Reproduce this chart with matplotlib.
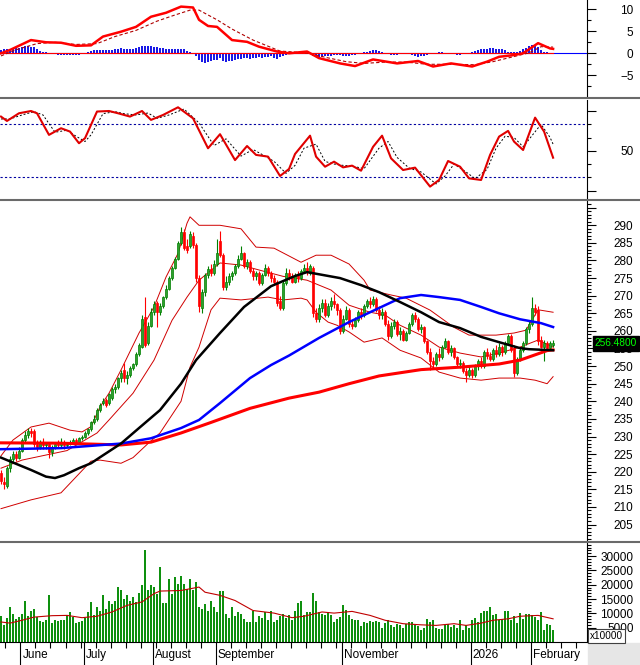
import matplotlib
matplotlib.use("Agg")
import matplotlib.pyplot as plt
import matplotlib.transforms as mtransforms
from matplotlib.lines import Line2D
from matplotlib.patches import Rectangle
from matplotlib.ticker import MultipleLocator
import numpy as np

plt.rcParams['font.family'] = ['Liberation Sans', 'DejaVu Sans']

# ---- daily candles (bar index 0 = late May 2025, last = Feb 2026) ----
opens = [
    219.5, 217, 216, 221, 223.5, 225, 224, 226, 229, 230.5,
    231.5, 231.5, 228, 227, 228.5, 227.5, 228, 225.5, 227, 228,
    227.5, 228.5, 227.5, 228, 228.5, 229, 228.5, 229.5, 230, 231,
    232, 234, 235, 237.5, 239.5, 240.5, 239.5, 241, 243.5, 244,
    246.5, 249, 246.5, 247.5, 249.5, 250.5, 253.5, 255.5, 264, 256.5,
    261.5, 265.5, 268, 265.5, 267, 269.5, 272, 275, 278, 280.5,
    285, 288, 284, 284, 287, 284.5, 275, 266.5, 271, 276,
    277.5, 276.5, 279, 285.5, 281.5, 272.5, 274, 275.5, 276.5, 278.5,
    280.5, 282, 278.5, 279.5, 277, 275.5, 276.5, 273.5, 276, 278,
    276.5, 275, 274, 268.5, 266.5, 273.5, 276.5, 275.5, 274, 276,
    275, 277, 278, 276.5, 278, 265, 263.5, 266.5, 268, 264.5,
    267, 268.5, 267.5, 266, 260, 263.5, 266, 262, 261.5, 263,
    265.5, 264.5, 267, 268.5, 267.5, 269, 266, 264.5, 265.5, 262,
    258.5, 261.5, 262.5, 259, 260, 257.5, 259.5, 262, 264.5, 263.5,
    260.5, 261, 257, 254, 251.5, 250.5, 253.5, 252.5, 255.5, 257,
    254, 255, 252.5, 250.5, 251, 248.5, 247.5, 249, 247.5, 250,
    251.5, 250, 254, 253, 252, 254.5, 253.5, 255.5, 254, 256.5,
    258.5, 255, 248, 252, 254.5, 256.5, 260.5, 262, 266.5, 266,
    257.5, 255.5, 256.5, 255, 256,
]
highs = [
    220.5, 218.5, 221.5, 224.5, 226, 226, 227, 229.5, 231.5, 232.5,
    232.5, 232, 229, 229, 229.5, 228.5, 228.5, 227.5, 228.5, 229,
    229.5, 229, 228.5, 229, 229.5, 229.5, 230, 230.5, 231.5, 232.5,
    234.5, 236, 238, 239.5, 241, 241, 242.5, 244, 245, 247,
    249, 251, 248.5, 250, 251, 254, 256.5, 264.5, 269.5, 262.5,
    266.5, 268.5, 268.5, 268, 270, 273, 275.5, 278.5, 281, 285.5,
    289.5, 289, 286, 288.5, 288, 285, 276, 272, 276.5, 278.5,
    279, 280, 286, 288.5, 282, 275.5, 276.5, 277, 279, 281.5,
    284, 282.5, 280.5, 280, 278, 277, 277, 276.5, 279, 278.5,
    277, 276, 274.5, 270, 274.5, 278, 277.5, 276.5, 276.5, 277,
    277.5, 279, 279.5, 279, 278.5, 266.5, 267.5, 269, 269, 268,
    269.5, 270.5, 268, 266.5, 264.5, 267, 266.5, 263, 264, 266,
    266.5, 267.5, 269, 269.5, 270, 269.5, 267, 266.5, 266, 263,
    262.5, 263.5, 263, 261, 260.5, 260, 262.5, 265, 265.5, 264,
    262, 261.5, 257.5, 255, 252.5, 254, 255, 256, 258, 257.5,
    256, 255.5, 253, 252, 251.5, 249.5, 250, 249.5, 250.5, 252,
    252.5, 254.5, 255, 254, 255, 256, 256.5, 256, 257, 259,
    259, 256, 252.5, 255, 257, 261, 263, 269.5, 267.5, 267,
    258.5, 257.5, 257, 257, 257.5,
]
lows = [
    216.5, 215, 215.5, 220, 222.5, 223, 223.5, 225.5, 228.5, 229.5,
    230, 227, 226, 226.5, 226.5, 226.5, 224, 224.5, 226.5, 227,
    227, 226.5, 227, 227.5, 228, 228, 228, 229, 229.5, 230.5,
    231.5, 233.5, 234.5, 237, 239, 238.5, 239, 240.5, 242.5, 243.5,
    245.5, 245.5, 245, 247, 249, 250, 253, 255, 255.5, 256,
    261, 264.5, 261, 264.5, 266.5, 269, 271.5, 274.5, 277.5, 280,
    284.5, 283, 282, 283.5, 283.5, 274, 265.5, 265, 270, 275,
    275.5, 276, 278.5, 281, 271.5, 271.5, 273, 274.5, 276, 278,
    280, 278, 277.5, 276.5, 274.5, 274.5, 273, 273, 275.5, 275.5,
    274, 273, 267, 266, 266, 273, 274.5, 273.5, 273.5, 274,
    274.5, 276.5, 276, 276, 264, 262.5, 262.5, 265.5, 264, 264,
    266, 266.5, 264.5, 259, 259.5, 263, 261, 260.5, 261, 262.5,
    263.5, 264, 266.5, 266.5, 267, 265.5, 263.5, 263.5, 261.5, 257.5,
    258, 260.5, 258.5, 257.5, 257, 257, 259, 261.5, 262.5, 260,
    259.5, 256.5, 253.5, 249, 249.5, 250, 251.5, 252, 255, 253.5,
    253, 252, 250, 249.5, 248, 245.5, 247, 246.5, 247, 249,
    249.5, 249.5, 252, 251.5, 251.5, 252.5, 253, 253, 253.5, 256,
    254, 247, 247.5, 251.5, 254, 256, 259.5, 261.5, 264.5, 256,
    255, 251.5, 254.5, 254.5, 255.5,
]
closes = [
    217.5, 216.5, 221, 223.5, 225, 224, 226, 229, 230.5, 231.5,
    231, 228, 227, 228.5, 227.5, 228, 225.5, 227, 228, 227.5,
    228.5, 227.5, 228, 228.5, 229, 228.5, 229.5, 230, 231, 232,
    234, 235, 237.5, 239, 240, 239, 242, 243.5, 244, 246.5,
    248, 246.5, 247.5, 249.5, 250.5, 253.5, 256, 263.5, 256, 261.5,
    265.5, 267.5, 265.5, 267, 269.5, 272, 275, 278, 280.5, 285,
    288, 283.5, 283, 287.5, 284.5, 275, 267, 271, 276, 277.5,
    276.5, 279, 282, 281.5, 272.5, 274, 275.5, 276.5, 278.5, 280.5,
    282, 278.5, 279.5, 277, 275.5, 276.5, 273.5, 276, 278, 276.5,
    275, 274, 268, 266.5, 273.5, 276.5, 275.5, 274, 276, 275,
    277, 278, 277, 278.5, 265, 263.5, 266.5, 268, 264.5, 267,
    268.5, 267.5, 266, 260, 263.5, 266, 262, 261.5, 263, 265.5,
    264.5, 267, 268.5, 267.5, 269, 266, 264.5, 265.5, 262, 258.5,
    261.5, 262.5, 259, 260, 257.5, 259.5, 262, 264.5, 263.5, 260.5,
    261, 257, 254, 251.5, 250.5, 253.5, 252.5, 255.5, 257, 254,
    255, 252.5, 250.5, 251, 248.5, 247.5, 249, 247.5, 250, 251.5,
    250, 254, 253, 252, 254.5, 253.5, 255.5, 254, 256.5, 258.5,
    254.5, 248, 252, 254.5, 256.5, 260.5, 262, 266.5, 265.5, 257,
    255.5, 256.5, 255, 256.5, 256.48,
]

# volume (x10000 shares)
volumes = [
    9000, 5800, 8500, 12400, 9700, 8100, 8700, 9700, 14200, 9000,
    10700, 11700, 8700, 7200, 7000, 7600, 16500, 6700, 7800, 7300,
    7600, 7600, 9300, 10500, 8700, 6600, 7000, 7200, 8500, 10500,
    14000, 9300, 12400, 10800, 16300, 11600, 14200, 13400, 14500, 19200,
    18000, 15100, 16300, 14500, 15900, 14000, 17100, 19800, 32000, 18000,
    19800, 19200, 16900, 26200, 13600, 13600, 22100, 16900, 22700, 20300,
    22900, 20300, 18600, 22100, 18000, 20900, 12200, 11600, 13400, 11000,
    14500, 12200, 10500, 17800, 17800, 9900, 8500, 12200, 9000, 10500,
    9700, 8100, 7000, 7000, 10700, 7000, 9000, 8500, 10500, 7600,
    10800, 7000, 7800, 9000, 9700, 8500, 9300, 7600, 11000, 13600,
    14200, 9300, 10500, 10500, 17100, 14200, 10500,
    9900, 9300, 10500, 9300, 7000, 8100, 8700, 12800, 11300, 9300,
    8100, 7800, 7600, 5500, 7000, 6600, 7200, 7000, 7200, 7000,
    5000, 6600, 7600, 5800, 5200, 6400, 5800, 5000, 6400, 7000,
    7000, 5800, 5500, 4100, 5000, 8100, 7000, 7800, 5000, 4700,
    4700, 5800, 6200, 5200, 5800, 5000, 7800, 4300, 5800, 5000,
    7600, 8500, 7000, 10100, 11000, 10800, 12400, 9300, 9900, 7600,
    8100, 10800, 10800, 7600, 9000, 6600, 10100, 8100, 9700, 9700,
    9300, 8700, 7800, 10500, 4300, 6200, 5800, 4300,
]
vol_ma_idx = [0, 3, 7, 11, 17, 22, 27, 32, 37, 42, 47, 51, 53, 60, 66, 68, 73, 78, 84, 91,
              97, 101, 107, 111, 117, 123, 128, 134, 140, 145, 151, 155, 160, 164, 169, 173, 179, 184]
vol_ma_val = [7000, 6600, 7600, 8700, 9200, 9300, 8500, 9000, 10500, 12800, 14000, 16900, 17800,
              18000, 19200, 17400, 16300, 14500, 11000, 10100, 8500, 9000, 10500, 10100, 10700,
              9300, 7600, 6400, 6000, 5800, 6400, 5800, 6600, 7600, 8100, 9000, 9300, 8100]

# moving averages / bollinger bands, read at selected bars
ma_black_idx = [0, 10, 15, 18, 21, 26, 30, 33, 40, 46, 53, 60, 65, 73, 81, 90, 98, 102, 113,
                120, 126, 133, 140, 146, 153, 160, 166, 173, 176, 184]
ma_black_val = [224, 220.5, 218.6, 218.2, 219, 221, 222.4, 224.1, 228, 232.4, 237.5, 245, 251.7,
                259.4, 266.8, 272.7, 275.6, 276.7, 275, 273, 271, 268.2, 265.3, 262.5, 260.8,
                258.3, 256.8, 255.1, 254.8, 254.5]
ma_blue_idx = [0, 7, 20, 40, 50, 60, 66, 73, 83, 90, 96, 106, 116, 126, 133, 140, 146, 153,
               160, 166, 173, 180, 184]
ma_blue_val = [226.4, 226.5, 226.7, 228, 229.5, 232.4, 234.7, 239.5, 246.6, 250.3, 253, 258,
               262.5, 266.5, 269.3, 270.2, 269.6, 268.8, 266.8, 265, 263.3, 262.2, 261.1]
ma_red_idx = [0, 20, 40, 50, 60, 70, 83, 96, 106, 116, 126, 140, 153, 166, 173, 176, 182, 184]
ma_red_val = [228.2, 228.1, 227.6, 228.4, 231, 234, 238, 240.9, 242.6, 245, 247.2, 249, 249.7,
              250.6, 251.7, 252.6, 254.4, 254.6]
bb_up_idx = [0, 4, 10, 16, 23, 27, 30, 33, 36, 40, 46, 51, 55, 59, 62, 63, 66, 73, 80, 85, 91,
             100, 105, 110, 116, 121, 123, 130, 135, 143, 151, 156, 165, 171, 175, 179, 184]
bb_up_val = [224.5, 229, 232.7, 233.8, 231.8, 231.3, 232.8, 238.4, 242.3, 248.9, 259.4, 266.8,
             275.3, 282, 290.6, 292.4, 290, 290, 289, 283.8, 283.5, 279.5, 281.5, 281.5, 279,
             274.4, 271.6, 270.2, 269.3, 265.9, 261, 258.8, 258.8, 259.4, 260.2, 266, 265.3]
bb_mid_idx = [0, 7, 22, 32, 36, 44, 51, 57, 62, 66, 73, 80, 86, 94, 102, 110, 116, 123, 128,
              133, 140, 146, 153, 160, 166, 173, 179, 184]
bb_mid_val = [221, 223.3, 226, 231, 234.7, 242.3, 251.7, 263, 269.6, 274.4, 279.3, 278.7, 277.3,
              275.5, 274.4, 271.6, 267.3, 265.3, 264.5, 261.6, 258.8, 255.4, 253.7, 252.6, 253.7,
              255.4, 257.4, 255.4]
bb_low_idx = [0, 10, 20, 30, 33, 40, 44, 49, 53, 60, 63, 66, 70, 73, 80, 89, 94, 100, 102, 105,
              109, 112, 116, 121, 127, 133, 140, 146, 153, 160, 166, 173, 178, 182, 184]
bb_low_val = [209.5, 212, 214, 223, 223.3, 222.4, 224, 228, 231, 240, 249.7, 255.4, 266, 269.3,
              268.8, 269.6, 268.8, 269.3, 268.8, 265.3, 262.5, 261.6, 259.7, 256.8, 258, 254.5,
              252.3, 248.3, 246.6, 246, 246.6, 246.6, 246, 245, 247]

# MACD
macd_idx = [0, 3, 10, 15, 20, 25, 30, 34, 40, 45, 50, 55, 60, 64, 66, 69, 72, 77, 82, 86, 92,
            96, 102, 106, 113, 118, 124, 132, 139, 144, 150, 157, 162, 166, 171, 174, 179, 183, 184]
macd_val = [0, 0.75, 3, 2.5, 2.4, 1.7, 1.8, 3.8, 4.9, 6, 8.3, 9.2, 10.6, 10.4, 7.6, 6.2, 6, 3,
            2.6, 1.5, 0.4, 0, 0.4, -1.1, -2.3, -2.9, -1.4, -2.3, -1.75, -3, -2.3, -3, -1.9, -0.8,
            -0.4, 0, 2.3, 1.1, 1.0]
signal_idx = [0, 5, 12, 18, 25, 32, 38, 45, 52, 58, 63, 66, 72, 77, 84, 93, 102, 108, 115, 121,
              128, 135, 142, 150, 158, 164, 170, 176, 180, 184]
signal_val = [-0.6, 0.8, 2.2, 2.5, 2.0, 2.2, 3.8, 5.2, 7.3, 8.7, 9.8, 9.8, 7.6, 5.5, 3.0, 0.5, 0.1,
              -0.9, -1.9, -2.3, -2.0, -2.0, -2.5, -2.5, -2.6, -1.9, -0.9, 0.1, 1.5, 1.4]
macd_hist = [
    0.7, 0.9, 1.0, 1.0, 1.1, 1.2, 1.2, 1.4, 1.6, 1.7, 1.5, 1.4,
    0.9, 0.6, 0.4, 0.2, 0.1, 0.0, -0.1,
    -0.3, -0.3, -0.3, -0.3, -0.3, -0.3, -0.3, -0.3, -0.2,
    0.1, 0.3, 0.5, 0.7, 0.8, 0.8, 0.7, 0.8, 0.7, 0.8, 0.9,
    1.0, 1.1, 1.0, 0.9, 1.0, 1.0, 1.1, 1.5, 1.6, 1.7, 1.7, 1.7, 1.5, 1.4,
    1.3, 1.2, 1.0, 1.0, 0.9, 1.0, 1.0, 1.0, 0.9, 0.6, 0.4, 0.1,
    -0.7, -1.5, -2.0, -2.1, -1.9, -1.8, -1.6, -1.5,
    -1.1, -1.7, -1.9, -1.7, -1.8, -1.6, -1.4, -1.3,
    -1.1, -1.0, -1.2, -1.0, -1.1, -0.9, -1.0, -0.8, -0.9, -0.7, -1.1, -1.3,
    -0.9, -0.6, -0.4, -0.2, -0.1, 0.0, 0.1, 0.2, 0.1, 0.0, -0.2, -0.6, -0.8,
    -0.8, -0.8, -0.7, -0.6, -0.6, -0.5, -0.5, -0.4, -0.6, -0.7, -0.6,
    -0.4, -0.3, -0.2, 0.0, 0.2, 0.4, 0.6, 0.7, 0.7, 0.6, 0.4,
    0.0, -0.2, -0.3, -0.3, -0.3, -0.2, -0.2, -0.1, -0.2, -0.5, -0.6, -0.8,
    -0.7, -0.6, -0.4, -0.2, 0.0, 0.1, 0.2, 0.2, 0.1, 0.0,
    -0.1, -0.2, -0.3, -0.3, -0.2, -0.1, 0.1, 0.3, 0.6, 0.8, 0.9, 1.0,
    1.0, 1.1, 1.1, 1.0, 1.0, 0.9, 0.7, 0.4, 0.3, 0.3, 0.4, 0.6,
    0.9, 1.3, 1.6, 1.9, 1.8, 1.4, 0.8, 0.4, 0.2, 0.0, -0.1,
]

# RSI
rsi_idx = [0, 2, 6, 10, 12, 16, 20, 23, 26, 28, 32, 36, 39, 43, 47, 50, 54, 59, 64, 69, 73, 78,
           82, 85, 89, 93, 96, 98, 103, 105, 108, 111, 114, 117, 120, 124, 127, 130, 134, 138,
           143, 146, 149, 153, 156, 160, 163, 166, 169, 171, 174, 178, 181, 184]
rsi_val = [75.8, 72.5, 78.3, 80, 78.3, 62, 67, 64.5, 55.7, 59.5, 79.6, 80, 78.3, 75.8, 80, 73.3,
           77, 82.8, 74.5, 51.9, 62.5, 43, 53.6, 46.9, 45.6, 31, 36.3, 47.6, 61.4, 45.6, 38, 41.8,
           37.5, 38.8, 35, 53, 61.4, 44.3, 35.5, 37.3, 23, 28, 42.3, 38, 29.2, 28, 46.9, 60.7, 65,
           56.9, 50.6, 75, 64.5, 44.8]
rsi_sig_idx = [0, 3, 7, 11, 14, 18, 22, 25, 28, 30, 34, 38, 41, 45, 49, 52, 56, 61, 66, 71, 75,
               80, 84, 88, 91, 95, 98, 101, 105, 108, 111, 114, 117, 121, 126, 129, 132, 136, 140,
               145, 148, 151, 155, 158, 162, 165, 168, 171, 174, 180, 183, 184]
rsi_sig_val = [74, 74, 77, 79.5, 77, 64, 65.5, 61, 57, 62, 78, 79.5, 78, 77, 78.5, 74.5, 77, 81.5,
               71, 54, 59, 46, 51, 46, 42, 33, 39, 52, 55, 42, 40, 39, 38.5, 36.5, 52, 57, 45, 37,
               34, 25, 31, 40, 34, 29, 36, 52, 61, 60, 53, 70, 60, 55]

# date axis
month_idx = [7, 28, 51, 72, 114, 157, 177]
month_labels = ['June', 'July', 'August', 'September', 'November', '2026', 'February']

# ---------------------------------------------------------------------
opens, highs, lows, closes = map(np.array, (opens, highs, lows, closes))
n = len(closes)
idx = np.arange(n)

W, H = 640, 665
RIGHT = 587
fig = plt.figure(figsize=(W / 100, H / 100), dpi=100)
fig.patch.set_facecolor('white')


def panel(top, bottom):
    ax = fig.add_axes([0, 1 - bottom / H, RIGHT / W, (bottom - top) / H])
    ax.set_xlim(-0.33, 195.3)
    for s in ('left', 'top', 'bottom'):
        ax.spines[s].set_visible(False)
    ax.spines['right'].set_linewidth(0.8)
    ax.yaxis.tick_right()
    ax.tick_params(axis='y', which='major', length=6.5, width=0.8, pad=27, labelsize=8.5)
    ax.tick_params(axis='y', which='minor', length=3, width=0.8)
    ax.set_xticks([])
    return ax


def right_align(ax):
    plt.setp(ax.get_yticklabels(), ha='right')


# MACD panel
ax_m = panel(0, 96)
ax_m.set_ylim(-9.7, 12.1)
ax_m.axhline(0, color='#0000ff', lw=0.8)
ax_m.plot([0, n - 1], [0, 0], color='#ff0000', lw=0.8)
ax_m.bar(idx, macd_hist, width=0.62, color='#1a1ae6')
ax_m.plot(signal_idx, signal_val, color='#b00000', lw=0.8, ls=(0, (3, 2)))
ax_m.plot(macd_idx, macd_val, color='#ff0000', lw=1.8)
ax_m.set_yticks([-5, 0, 5, 10])
ax_m.yaxis.set_minor_locator(MultipleLocator(2.5))
right_align(ax_m)

# RSI panel
ax_r = panel(100, 198)
ax_r.set_ylim(14.4, 88.3)
for lvl in (70, 30):
    ax_r.axhline(lvl, color='#0000a0', lw=0.8, ls=(0, (2, 2)))
ax_r.plot(rsi_sig_idx, rsi_sig_val, color='black', lw=0.7, ls=(0, (2, 2)))
ax_r.plot(rsi_idx, rsi_val, color='#e00000', lw=1.5)
ax_r.set_yticks([20, 50, 80], ['', '50', ''])
ax_r.yaxis.set_minor_locator(MultipleLocator(10))
right_align(ax_r)

# price panel
ax_p = panel(201, 540)
ax_p.set_ylim(200.6, 296.9)
ax_p.plot(bb_up_idx, bb_up_val, color='#d00000', lw=0.7)
ax_p.plot(bb_mid_idx, bb_mid_val, color='#d00000', lw=0.7)
ax_p.plot(bb_low_idx, bb_low_val, color='#d00000', lw=0.7)
up = closes >= opens
body_lo = np.minimum(opens, closes)
body_h = np.maximum(np.abs(closes - opens), 0.25)
wick_col = np.where(up, '#008000', '#ff0000')
face_col = np.where(up, '#2ea02e', '#ff0000')
ax_p.vlines(idx, lows, highs, colors=wick_col, lw=0.8, zorder=3)
ax_p.bar(idx, body_h, bottom=body_lo, width=0.72, color=face_col, edgecolor=wick_col,
         linewidth=0.5, zorder=3)
ax_p.plot(ma_red_idx, ma_red_val, color='#ff0000', lw=2.2, zorder=4)
ax_p.plot(ma_blue_idx, ma_blue_val, color='#0000ff', lw=1.8, zorder=4)
ax_p.plot(ma_black_idx, ma_black_val, color='black', lw=1.8, zorder=4)
ticks = list(range(205, 300, 5))
ax_p.set_yticks(ticks, [str(t) if t < 295 else '' for t in ticks])
ax_p.yaxis.set_minor_locator(MultipleLocator(1))
right_align(ax_p)
trans_p = mtransforms.blended_transform_factory(ax_p.transAxes, ax_p.transData)
ax_p.text(1.0135, closes[-1], f'{closes[-1]:.4f}', transform=trans_p, color='#00ff00',
          fontsize=7.3, ha='left', va='center', zorder=10, clip_on=False,
          bbox=dict(boxstyle='square,pad=0.22', fc='black', ec='black'))

# volume panel
ax_v = panel(543, 642)
ax_v.set_ylim(0, 34600)
ax_v.bar(idx, volumes, width=0.68, color='#0e900e')
ax_v.plot(vol_ma_idx, vol_ma_val, color='#c00000', lw=0.8)
ax_v.set_yticks(range(5000, 35000, 5000))
ax_v.yaxis.set_minor_locator(MultipleLocator(1000))
right_align(ax_v)
ax_v.spines['bottom'].set_visible(True)
ax_v.spines['bottom'].set_linewidth(0.8)
ax_v.set_xticks([m - 0.5 for m in month_idx])
ax_v.set_xticks(np.arange(1.5, n + 10, 5), minor=True)
ax_v.tick_params(axis='x', which='major', length=16.5, width=0.8, labelbottom=False)
ax_v.tick_params(axis='x', which='minor', length=4, width=0.8)
trans_v = mtransforms.blended_transform_factory(ax_v.transData, ax_v.transAxes)
for m, lab in zip(month_idx, month_labels):
    ax_v.text(m - 0.5 + 0.7, -0.13, lab, transform=trans_v, ha='left', va='center',
              fontsize=8.5)

# panel separators and frame bits
for yy in (97.5, 199.5, 541.5):
    fig.add_artist(Line2D([0, 1], [1 - yy / H] * 2, transform=fig.transFigure,
                          color='#6a6a6a', lw=1.5))
fig.add_artist(Rectangle((RIGHT / W + 0.001, 0), 1 - RIGHT / W, (H - 643) / H,
                         transform=fig.transFigure, color='#e6e6e6', zorder=0))
fig.text(590 / W, 1 - 636 / H, 'x10000', fontsize=7.2, ha='left', va='center', zorder=10,
         bbox=dict(boxstyle='square,pad=0.2', fc='white', ec='#404040', lw=0.8))

fig.savefig('out.png', dpi=100)
